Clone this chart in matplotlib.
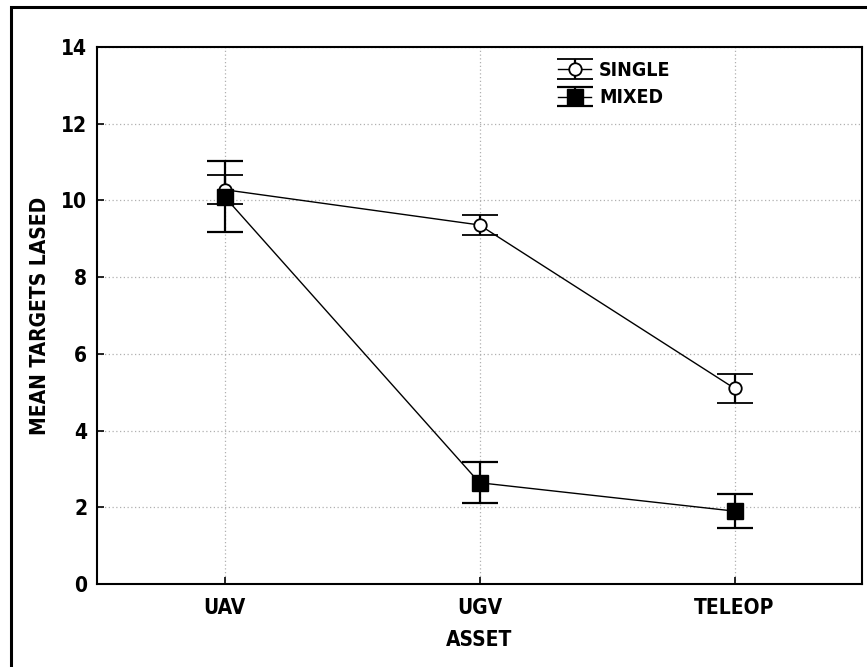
import matplotlib
matplotlib.use("Agg")
import matplotlib.pyplot as plt
from matplotlib.patches import Rectangle
import numpy as np

plt.rcParams['font.family'] = ['DejaVu Sans', 'Liberation Sans']
plt.rcParams['font.stretch'] = 'condensed'
plt.rcParams['font.weight'] = 'bold'

# data
assets = ["UAV", "UGV", "TELEOP"]
single_mean = [10.28, 9.36, 5.10]
single_err = [0.38, 0.26, 0.37]
mixed_mean = [10.10, 2.64, 1.90]
mixed_err = [0.92, 0.53, 0.45]
y_ticks = [0, 2, 4, 6, 8, 10, 12, 14]

fig = plt.figure(figsize=(8.67, 6.67), dpi=100)
ax = fig.add_axes([97 / 867, 83 / 667, 765 / 867, 537 / 667])

# outer frame (only left and top edges visible in the original)
fig.patches.append(Rectangle((11 / 867, -0.1), 2, 1.1 - 7 / 667, transform=fig.transFigure,
                             fill=False, edgecolor="black", linewidth=2.2))

x = np.arange(len(assets))
ax.errorbar(x, single_mean, yerr=single_err, color="black", lw=1.0, marker="o",
            markersize=9, markerfacecolor="white", markeredgecolor="black", markeredgewidth=1.3,
            ecolor="black", elinewidth=1.6, capsize=13, capthick=1.6, label="SINGLE", zorder=3)
ax.errorbar(x, mixed_mean, yerr=mixed_err, color="black", lw=1.0, marker="s",
            markersize=11, markerfacecolor="black", markeredgecolor="black",
            ecolor="black", elinewidth=1.6, capsize=13, capthick=1.6, label="MIXED", zorder=3)

ax.set_xlim(-0.5, 2.5)
ax.set_ylim(0, 14)
ax.set_xticks(x)
ax.set_xticklabels(assets)
ax.set_yticks(y_ticks)
ax.grid(True, color="#b0b0b0", linestyle=(0, (1, 2)), linewidth=0.9)
ax.set_axisbelow(True)
ax.tick_params(direction="in", length=5, width=1.2, labelsize=15)
ax.tick_params(axis="x", pad=10)
ax.tick_params(axis="y", pad=7)
for s in ax.spines.values():
    s.set_linewidth(1.5)
ax.set_xlabel("ASSET", fontsize=15, fontweight="bold", labelpad=9)
ax.set_ylabel("MEAN TARGETS LASED", fontsize=15, fontweight="bold", labelpad=8)

ax.legend(loc="upper left", bbox_to_anchor=(0.58, 1.007), frameon=False, fontsize=14,
          handlelength=1.7, handletextpad=0.4, labelspacing=0.45)

fig.savefig("out.png", dpi=100)
